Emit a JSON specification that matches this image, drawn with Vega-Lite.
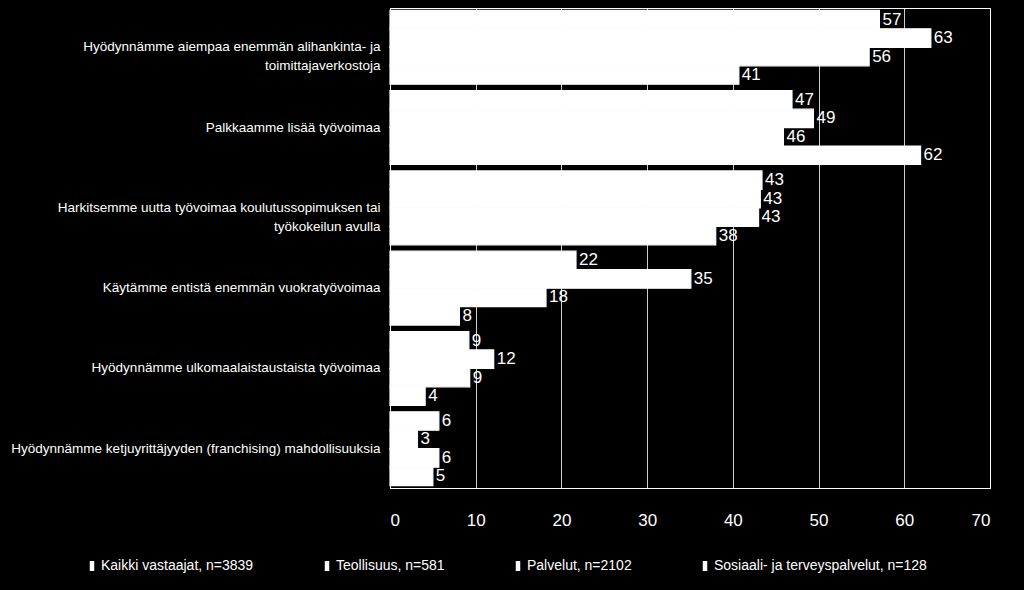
{
  "$schema": "https://vega.github.io/schema/vega-lite/v6.json",
  "width": 600,
  "height": 480,
  "autosize": {"type": "none"},
  "padding": {"left": 390, "top": 8, "right": 34, "bottom": 102},
  "background": "black",
  "config": {
    "view": {"stroke": "white", "strokeWidth": 1},
    "font": "Liberation Sans, Arial, sans-serif"
  },
  "data": {
    "values": [
      {"cat": "Hyödynnämme aiempaa enemmän alihankinta- ja|toimittajaverkostoja", "series": "Kaikki vastaajat, n=3839", "value": 57.1},
      {"cat": "Hyödynnämme aiempaa enemmän alihankinta- ja|toimittajaverkostoja", "series": "Teollisuus, n=581", "value": 63.1},
      {"cat": "Hyödynnämme aiempaa enemmän alihankinta- ja|toimittajaverkostoja", "series": "Palvelut, n=2102", "value": 55.9},
      {"cat": "Hyödynnämme aiempaa enemmän alihankinta- ja|toimittajaverkostoja", "series": "Sosiaali- ja terveyspalvelut, n=128", "value": 40.7},
      {"cat": "Palkkaamme lisää työvoimaa", "series": "Kaikki vastaajat, n=3839", "value": 46.9},
      {"cat": "Palkkaamme lisää työvoimaa", "series": "Teollisuus, n=581", "value": 49.4},
      {"cat": "Palkkaamme lisää työvoimaa", "series": "Palvelut, n=2102", "value": 45.9},
      {"cat": "Palkkaamme lisää työvoimaa", "series": "Sosiaali- ja terveyspalvelut, n=128", "value": 61.9},
      {"cat": "Harkitsemme uutta työvoimaa koulutussopimuksen tai|työkokeilun avulla", "series": "Kaikki vastaajat, n=3839", "value": 43.4},
      {"cat": "Harkitsemme uutta työvoimaa koulutussopimuksen tai|työkokeilun avulla", "series": "Teollisuus, n=581", "value": 43.2},
      {"cat": "Harkitsemme uutta työvoimaa koulutussopimuksen tai|työkokeilun avulla", "series": "Palvelut, n=2102", "value": 43.0},
      {"cat": "Harkitsemme uutta työvoimaa koulutussopimuksen tai|työkokeilun avulla", "series": "Sosiaali- ja terveyspalvelut, n=128", "value": 38.0},
      {"cat": "Käytämme entistä enemmän vuokratyövoimaa", "series": "Kaikki vastaajat, n=3839", "value": 21.7},
      {"cat": "Käytämme entistä enemmän vuokratyövoimaa", "series": "Teollisuus, n=581", "value": 35.1},
      {"cat": "Käytämme entistä enemmän vuokratyövoimaa", "series": "Palvelut, n=2102", "value": 18.2},
      {"cat": "Käytämme entistä enemmän vuokratyövoimaa", "series": "Sosiaali- ja terveyspalvelut, n=128", "value": 8.1},
      {"cat": "Hyödynnämme ulkomaalaistaustaista työvoimaa", "series": "Kaikki vastaajat, n=3839", "value": 9.2},
      {"cat": "Hyödynnämme ulkomaalaistaustaista työvoimaa", "series": "Teollisuus, n=581", "value": 12.1},
      {"cat": "Hyödynnämme ulkomaalaistaustaista työvoimaa", "series": "Palvelut, n=2102", "value": 9.3},
      {"cat": "Hyödynnämme ulkomaalaistaustaista työvoimaa", "series": "Sosiaali- ja terveyspalvelut, n=128", "value": 4.1},
      {"cat": "Hyödynnämme ketjuyrittäjyyden (franchising) mahdollisuuksia", "series": "Kaikki vastaajat, n=3839", "value": 5.7},
      {"cat": "Hyödynnämme ketjuyrittäjyyden (franchising) mahdollisuuksia", "series": "Teollisuus, n=581", "value": 3.2},
      {"cat": "Hyödynnämme ketjuyrittäjyyden (franchising) mahdollisuuksia", "series": "Palvelut, n=2102", "value": 5.7},
      {"cat": "Hyödynnämme ketjuyrittäjyyden (franchising) mahdollisuuksia", "series": "Sosiaali- ja terveyspalvelut, n=128", "value": 5.0}
    ]
  },
  "encoding": {
    "y": {
      "field": "cat",
      "type": "nominal",
      "sort": null,
      "scale": {"paddingInner": 0.08, "paddingOuter": 0.03},
      "axis": {
        "title": null,
        "labelExpr": "split(datum.label, '|')",
        "labelColor": "white",
        "labelFontSize": 13.5,
        "labelLineHeight": 19,
        "labelPadding": 10,
        "labelLimit": 400,
        "ticks": false,
        "domainColor": "white",
        "grid": false
      }
    },
    "yOffset": {
      "field": "series",
      "type": "nominal",
      "sort": ["Kaikki vastaajat, n=3839", "Teollisuus, n=581", "Palvelut, n=2102", "Sosiaali- ja terveyspalvelut, n=128"],
      "scale": {"paddingInner": 0, "paddingOuter": 0}
    },
    "x": {
      "field": "value",
      "type": "quantitative",
      "scale": {"domain": [0, 70], "nice": false},
      "axis": {
        "title": null,
        "values": [0, 10, 20, 30, 40, 50, 60, 70],
        "labelColor": "white",
        "labelFontSize": 17,
        "labelPadding": 24,
        "ticks": false,
        "domainColor": "white",
        "gridColor": "white",
        "gridOpacity": 0.8,
        "gridWidth": 1
      }
    }
  },
  "layer": [
    {
      "mark": {"type": "bar", "fill": "white", "stroke": "white", "strokeWidth": 1.2},
      "encoding": {
        "color": {
          "field": "series",
          "type": "nominal",
          "sort": ["Kaikki vastaajat, n=3839", "Teollisuus, n=581", "Palvelut, n=2102", "Sosiaali- ja terveyspalvelut, n=128"],
          "scale": {"range": ["white", "white", "white", "white"]},
          "legend": {
            "title": null,
            "orient": "none",
            "legendX": -305,
            "legendY": 551,
            "direction": "horizontal",
            "columns": 4,
            "columnPadding": 66,
            "labelColor": "white",
            "labelFontSize": 14,
            "labelOffset": 2,
            "symbolType": "M-0.45,-1L0.45,-1L0.45,1L-0.45,1Z",
            "symbolSize": 100,
            "symbolFillColor": "white",
            "symbolStrokeWidth": 0,
            "labelLimit": 300
          }
        }
      }
    },
    {
      "mark": {"type": "text", "align": "left", "baseline": "middle", "dx": 3, "color": "white", "fontSize": 17},
      "encoding": {
        "text": {"field": "value", "type": "quantitative", "format": ".0f"}
      }
    }
  ]
}
